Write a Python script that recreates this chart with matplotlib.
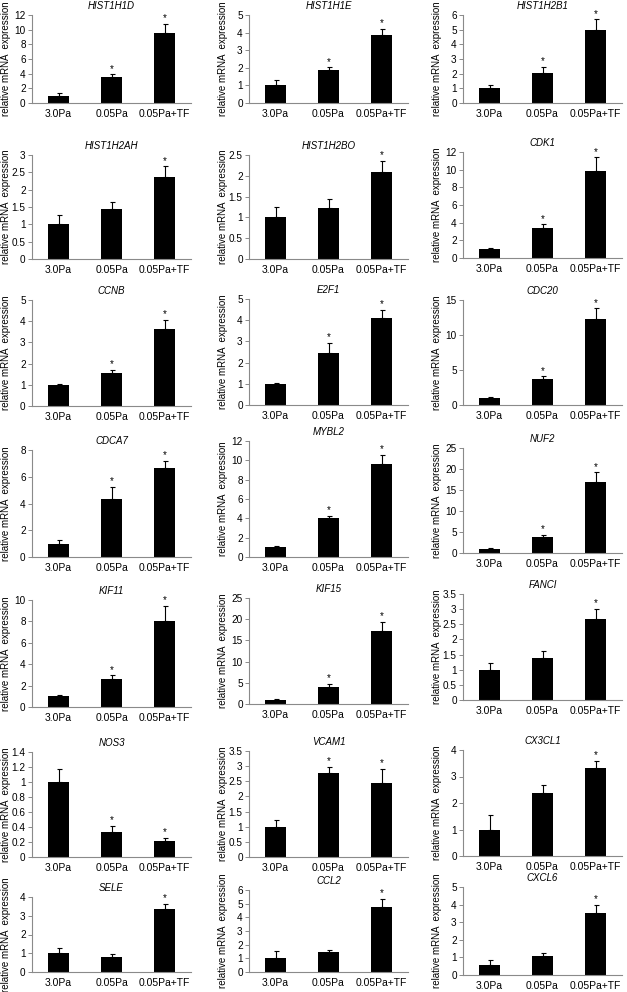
import matplotlib
matplotlib.use("Agg")
import matplotlib.pyplot as plt

plt.rcParams['font.family'] = ['Liberation Sans', 'DejaVu Sans']

categories = ["3.0Pa", "0.05Pa", "0.05Pa+TF"]

genes = ["HIST1H1D", "HIST1H1E", "HIST1H2B1",
         "HIST1H2AH", "HIST1H2BO", "CDK1",
         "CCNB", "E2F1", "CDC20",
         "CDCA7", "MYBL2", "NUF2",
         "KIF11", "KIF15", "FANCI",
         "NOS3", "VCAM1", "CX3CL1",
         "SELE", "CCL2", "CXCL6"]

means = [[1.0, 3.5, 9.6], [1.0, 1.9, 3.85], [1.0, 2.05, 5.0],
         [1.0, 1.43, 2.37], [1.0, 1.23, 2.1], [1.0, 3.45, 9.8],
         [1.0, 1.57, 3.65], [1.0, 2.45, 4.1], [1.0, 3.7, 12.3],
         [1.0, 4.3, 6.65], [1.0, 4.0, 9.6], [1.0, 3.9, 17.0],
         [1.0, 2.6, 8.0], [1.0, 4.0, 17.3], [1.0, 1.4, 2.68],
         [1.0, 0.34, 0.21], [1.0, 2.78, 2.43], [1.0, 2.37, 3.33],
         [1.0, 0.8, 3.38], [1.0, 1.45, 4.75], [0.57, 1.1, 3.52]]

errors = [[0.35, 0.4, 1.2], [0.3, 0.12, 0.35], [0.2, 0.4, 0.7],
          [0.27, 0.2, 0.3], [0.25, 0.22, 0.25], [0.1, 0.35, 1.6],
          [0.03, 0.13, 0.43], [0.03, 0.47, 0.4], [0.1, 0.4, 1.5],
          [0.3, 0.95, 0.55], [0.15, 0.25, 1.0], [0.1, 0.5, 2.2],
          [0.1, 0.35, 1.45], [0.1, 0.7, 2.1], [0.23, 0.22, 0.34],
          [0.17, 0.07, 0.04], [0.22, 0.19, 0.49], [0.55, 0.31, 0.27],
          [0.28, 0.15, 0.27], [0.57, 0.17, 0.6], [0.28, 0.15, 0.48]]

stars = [[0, 1, 1], [0, 1, 1], [0, 1, 1],
         [0, 0, 1], [0, 0, 1], [0, 1, 1],
         [0, 1, 1], [0, 1, 1], [0, 1, 1],
         [0, 1, 1], [0, 1, 1], [0, 1, 1],
         [0, 1, 1], [0, 1, 1], [0, 0, 1],
         [0, 1, 1], [0, 1, 1], [0, 0, 1],
         [0, 0, 1], [0, 0, 1], [0, 0, 1]]

ymax = [12, 5, 6, 3, 2.5, 12, 5, 5, 15, 8, 12, 25, 10, 25, 3.5, 1.4, 3.5, 4, 4, 6, 5]
ystep = [2, 1, 1, 0.5, 0.5, 2, 1, 1, 5, 2, 2, 5, 2, 5, 0.5, 0.2, 0.5, 1, 1, 1, 1]

# layout in pixels
W, H = 627, 992
col_left = [32, 249, 463]
col_width = 159
ylabel_x = [11, 228, 442]   # right edge of the rotated y label
# (top, bottom) per panel
tb = [(15, 103), (15, 103), (15, 103),
      (155, 259), (155, 259), (152, 258),
      (300, 406), (299, 405), (300, 405),
      (450, 557), (441, 557), (448, 553),
      (600, 707), (598, 704), (594, 700),
      (752, 857), (751, 857), (750, 856),
      (897, 972), (890, 972), (887, 975)]

fig = plt.figure(figsize=(W / 100, H / 100), dpi=100)
axis_color = '#8a8a8a'

for i, g in enumerate(genes):
    c = i % 3
    top, bot = tb[i]
    ax = fig.add_axes([col_left[c] / W, 1 - bot / H, col_width / W, (bot - top) / H])
    x = range(3)
    ax.bar(x, means[i], width=0.4, color='black', zorder=2)
    ax.errorbar(x, means[i], yerr=[[0, 0, 0], errors[i]], fmt='none',
                ecolor='black', elinewidth=0.8, capsize=1.8, capthick=0.8, zorder=3)
    for j in range(3):
        if stars[i][j]:
            ax.annotate('*', (j, means[i][j] + errors[i][j]), xytext=(0, 0.5),
                        textcoords='offset points', ha='center', va='bottom', fontsize=7)
    ax.set_xlim(-0.5, 2.5)
    ax.set_ylim(0, ymax[i])
    n = int(round(ymax[i] / ystep[i]))
    ticks = [k * ystep[i] for k in range(n + 1)]
    ax.set_yticks(ticks)
    ax.set_yticklabels([('%g' % t) for t in ticks])
    ax.set_xticks(list(x))
    ax.set_xticklabels(categories)
    ax.tick_params(axis='x', length=0, labelsize=7.5, pad=4)
    ax.tick_params(axis='y', length=3, width=0.7, color=axis_color, labelsize=7.2, pad=1.5)
    for s in ['top', 'right']:
        ax.spines[s].set_visible(False)
    for s in ['left', 'bottom']:
        ax.spines[s].set_color(axis_color)
        ax.spines[s].set_linewidth(0.8)
    ax.set_title(g, fontsize=7, style='italic', pad=4)
    ax.set_ylabel('relative mRNA  expression', fontsize=7)
    ax.yaxis.set_label_coords((ylabel_x[c] - col_left[c]) / col_width, 0.5)

fig.savefig('out.png', dpi=100)
